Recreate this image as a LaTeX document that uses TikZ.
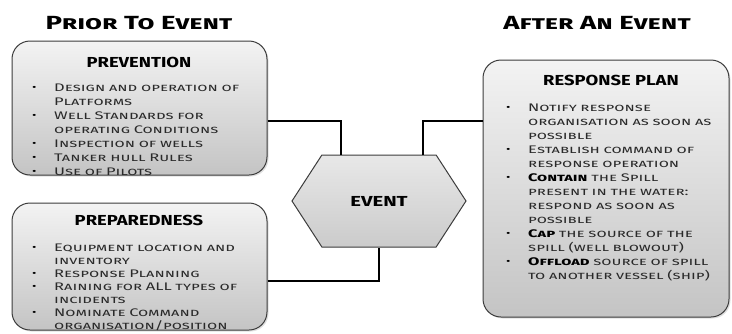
\documentclass[tikz,border=0pt]{standalone}
\usepackage{fontspec}
\setmainfont{Fira Sans}
\usepackage{xcolor}
\definecolor{boxtop}{HTML}{F3F3F3}
\definecolor{boxbot}{HTML}{C4C4C4}
\definecolor{boxline}{HTML}{3C3C3C}
\definecolor{hextop}{HTML}{E8E8E8}
\definecolor{hexbot}{HTML}{CBCBCB}
\definecolor{bodytext}{HTML}{2A2A2A}
\usetikzlibrary{shapes.geometric,shapes.symbols,shadows,positioning}

% one bullet line of a list, later lines hang under the text
\newcommand\bitem[1]{\par\hangindent=22pt\hangafter=1\noindent\makebox[22pt][l]{\raisebox{0.5pt}{\color{black}\small\textbullet}}#1}

\begin{document}
\begin{tikzpicture}[
  x=1pt, y=-1pt,
  title/.style={font=\fontsize{19}{22}\selectfont\bfseries\scshape\addfontfeature{FakeStretch=1.45}},
  panel/.style={draw=boxline, line width=1pt, rounded corners=18pt,
    top color=boxtop, bottom color=boxbot,
    drop shadow={opacity=0.25, shadow xshift=1.5pt, shadow yshift=-1.5pt}},
  head/.style={font=\fontsize{14.5}{16}\selectfont\bfseries\addfontfeature{FakeStretch=1.27}},
  list/.style={anchor=north west, inner sep=0pt, text width=235pt, align=left,
    text=bodytext, font=\fontsize{11}{14}\selectfont\scshape\addfontfeature{FakeStretch=1.5}},
  hexa/.style={signal, signal to=west and east, signal pointer angle=114,
    draw=boxline, line width=1pt, top color=hextop, bottom color=hexbot,
    minimum width=174pt, minimum height=92pt, inner sep=0pt,
    font=\fontsize{14.5}{16}\selectfont\bfseries\addfontfeature{FakeStretch=1.4}},
  link/.style={draw=black, line width=1.3pt}
  ]
  \useasboundingbox (0,0) rectangle (732,333);

  % column titles
  \node[title] (prior) at (139,23) {Prior To Event};
  \node[title] (after) at (597,23) {After An Event};

  % boxes
  \node[panel, minimum width=255pt, minimum height=134pt] (prev) at (139.5,108) {};
  \node[panel, minimum width=255pt, minimum height=127pt] (prep) at (139.5,266.5) {};
  \node[panel, minimum width=246pt, minimum height=257pt] (resp) at (606,188.5) {};
  \node[hexa] (event) at (379,201) {EVENT};

  % headings
  \node[head] (prevhead) at (139,62) {PREVENTION};
  \node[head] (prephead) at (139,220) {PREPAREDNESS};
  \node[head] (resphead) at (611,80) {RESPONSE PLAN};

  % lists
  \node[list] (prevlist) at (32,77) {%
    \bitem{Design and operation of\newline Platforms}
    \bitem{Well Standards for\newline operating Conditions}
    \bitem{Inspection of wells}
    \bitem{Tanker hull Rules}
    \bitem{Use of Pilots}\par};
  \node[list, font=\fontsize{11}{13}\selectfont\scshape\addfontfeature{FakeStretch=1.5}] (preplist) at (32,238) {%
    \bitem{Equipment location and\newline inventory}
    \bitem{Response Planning}
    \bitem{Raining for ALL types of\newline incidents}
    \bitem{Nominate Command\newline organisation/position}\par};
  \node[list, text width=225pt] (resplist) at (506,97) {%
    \bitem{Notify response\newline organisation as soon as\newline possible}
    \bitem{Establish command of\newline response operation}
    \bitem{{\color{black}\bfseries Contain} the Spill\newline present in the water:\newline respond as soon as\newline possible}
    \bitem{{\color{black}\bfseries Cap} the source of the\newline spill (well blowout)}
    \bitem{{\color{black}\bfseries Offload} source of spill\newline to another vessel (ship)}\par};

  % connectors
  \draw[link] ([yshift=-13pt]prev.east) -| ([xshift=-38pt]event.north);
  \draw[link] ([xshift=44pt]event.north) |- ([yshift=67.5pt]resp.west);
  \draw[link] ([yshift=-14.5pt]prep.east) -| (event.south);
\end{tikzpicture}
\end{document}
